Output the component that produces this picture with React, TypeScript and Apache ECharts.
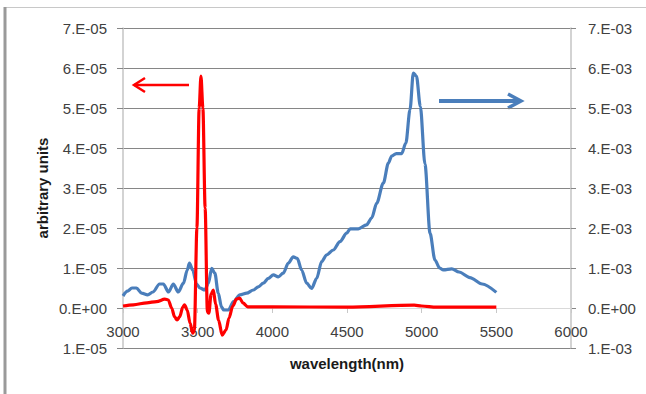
import { useEffect, useRef } from "react";
import * as echarts from "echarts";

// x axis (wavelength, nm)
const xMin = 3000;
const xMax = 6000;
const xStep = 500;

// tick labels, bottom to top
const leftTickLabels = ["1.E-05", "0.E+00", "1.E-05", "2.E-05", "3.E-05", "4.E-05", "5.E-05", "6.E-05", "7.E-05"];
const rightTickLabels = ["1.E-03", "0.E+00", "1.E-03", "2.E-03", "3.E-03", "4.E-03", "5.E-03", "6.E-03", "7.E-03"];

// blue series (right axis)
const blueWavelength = [
  3000, 3030, 3060, 3090, 3125, 3165, 3200, 3245, 3270, 3305, 3337, 3370, 3405, 3430, 3445, 3466,
  3493, 3515, 3548, 3572, 3594, 3615, 3638, 3660, 3675, 3705, 3740, 3783, 3828, 3873, 3906, 3940,
  3973, 4007, 4040, 4073, 4107, 4140, 4167, 4196, 4230, 4263, 4297, 4330, 4364, 4408, 4453, 4498,
  4521, 4576, 4631, 4665, 4699, 4743, 4777, 4799, 4830, 4866, 4894, 4922, 4944, 4965, 4991, 5022,
  5056, 5089, 5120, 5145, 5201, 5250, 5323, 5405, 5500,
];
const blueValue = [
  0.30e-3, 0.42e-3, 0.50e-3, 0.50e-3, 0.37e-3, 0.33e-3, 0.40e-3, 0.60e-3, 0.60e-3, 0.40e-3, 0.60e-3, 0.40e-3, 0.62e-3, 0.95e-3, 1.12e-3, 0.95e-3,
  0.60e-3, 0.50e-3, 0.45e-3, 0.62e-3, 0.99e-3, 0.87e-3, 0.37e-3, 0.02e-3, -0.05e-3, -0.05e-3, 0.16e-3, 0.33e-3, 0.37e-3, 0.45e-3, 0.53e-3, 0.62e-3,
  0.74e-3, 0.83e-3, 0.78e-3, 0.87e-3, 1.12e-3, 1.28e-3, 1.24e-3, 0.95e-3, 0.62e-3, 0.49e-3, 0.74e-3, 1.16e-3, 1.33e-3, 1.45e-3, 1.66e-3, 1.87e-3,
  1.98e-3, 1.98e-3, 2.08e-3, 2.25e-3, 2.62e-3, 3.12e-3, 3.62e-3, 3.80e-3, 3.86e-3, 3.86e-3, 4.12e-3, 4.96e-3, 5.87e-3, 5.80e-3, 5.04e-3, 3.60e-3,
  1.87e-3, 1.20e-3, 1.00e-3, 0.95e-3, 0.98e-3, 0.90e-3, 0.76e-3, 0.60e-3, 0.39e-3,
];

// red series (left axis)
const redWavelength = [
  3000, 3070, 3160, 3225, 3280, 3303, 3326, 3345, 3362, 3380, 3400, 3412, 3430, 3449, 3467, 3478,
  3495, 3510, 3522, 3535, 3550, 3565, 3575, 3590, 3605, 3620, 3640, 3664, 3690, 3710, 3735, 3760,
  3780, 3805, 3835, 4000, 4500, 4950, 5000, 5100, 5500,
];
const redValue = [
  0.05e-5, 0.08e-5, 0.13e-5, 0.16e-5, 0.22e-5, 0.20e-5, 0.00e-5, -0.22e-5, -0.30e-5, -0.22e-5, 0.02e-5, 0.08e-5, -0.05e-5, -0.38e-5, -0.63e-5, -0.55e-5,
  2.0e-5, 5.0e-5, 5.8e-5, 5.0e-5, 2.5e-5, -0.10e-5, -0.13e-5, 0.35e-5, 0.45e-5, 0.10e-5, -0.30e-5, -0.68e-5, -0.55e-5, -0.25e-5, 0.05e-5, 0.22e-5,
  0.25e-5, 0.12e-5, 0.03e-5, 0.03e-5, 0.02e-5, 0.07e-5, 0.05e-5, 0.02e-5, 0.02e-5,
];

const FONT = "'Liberation Sans', Arial, sans-serif";
const GRID_COLOR = "#868686";
const AXIS_COLOR = "#c4c4c4";
const LABEL_COLOR = "#404040";

const GRID_TOP = 28;
const GRID_BOTTOM = 46;
const CHART_H = 394;

export default function App() {
  const ref = useRef<HTMLDivElement>(null);

  useEffect(() => {
    document.body.style.margin = "0";
    if (!ref.current) return;
    const chart = echarts.init(ref.current, null, { renderer: "svg" });

    const splitColors = leftTickLabels.map((_, i) => (i === 1 ? "rgba(0,0,0,0)" : GRID_COLOR));
    // the x axis crosses the left value axis at zero (one interval above its minimum)
    const plotH = CHART_H - GRID_TOP - GRID_BOTTOM;
    const zeroOffset = -plotH / (leftTickLabels.length - 1);

    chart.setOption({
      animation: false,
      backgroundColor: "#ffffff",
      grid: { left: 123, right: 75, top: GRID_TOP, bottom: GRID_BOTTOM, containLabel: false },
      xAxis: {
        type: "value",
        position: "bottom",
        offset: zeroOffset,
        min: xMin,
        max: xMax,
        interval: xStep,
        axisLine: { show: true, onZero: false, lineStyle: { color: "#d9d9d9", width: 1 } },
        axisTick: { show: true, length: 5, lineStyle: { color: "#c8c8c8" } },
        splitLine: { show: false },
        axisLabel: {
          color: LABEL_COLOR,
          fontFamily: FONT,
          fontSize: 15,
          margin: 16,
          formatter: (v: number) => String(Math.round(v)),
        },
      },
      yAxis: [
        {
          type: "value",
          position: "left",
          min: -1e-5,
          max: 7e-5,
          interval: 1e-5,
          axisLine: { show: true, onZero: false, lineStyle: { color: AXIS_COLOR, width: 1.5 } },
          axisTick: { show: true, length: 6, lineStyle: { color: GRID_COLOR } },
          splitLine: { show: true, lineStyle: { color: splitColors, width: 1 } },
          axisLabel: {
            color: LABEL_COLOR,
            fontFamily: FONT,
            fontSize: 15,
            margin: 16,
            formatter: (v: number) => leftTickLabels[Math.round(v / 1e-5) + 1] ?? "",
          },
        },
        {
          type: "value",
          position: "right",
          min: -1e-3,
          max: 7e-3,
          interval: 1e-3,
          axisLine: { show: true, onZero: false, lineStyle: { color: AXIS_COLOR, width: 1.5 } },
          axisTick: { show: true, length: 5, lineStyle: { color: GRID_COLOR } },
          splitLine: { show: false },
          axisLabel: {
            color: LABEL_COLOR,
            fontFamily: FONT,
            fontSize: 15,
            margin: 17,
            formatter: (v: number) => rightTickLabels[Math.round(v / 1e-3) + 1] ?? "",
          },
        },
      ],
      series: [
        {
          type: "line",
          yAxisIndex: 1,
          data: blueWavelength.map((w, i) => [w, blueValue[i]]),
          showSymbol: false,
          smooth: 0.3,
          smoothMonotone: "x",
          lineStyle: { color: "#4a7ebb", width: 3.2 },
          itemStyle: { color: "#4a7ebb" },
          z: 2,
        },
        {
          type: "line",
          yAxisIndex: 0,
          data: redWavelength.map((w, i) => [w, redValue[i]]),
          showSymbol: false,
          smooth: 0.3,
          smoothMonotone: "x",
          lineStyle: { color: "#ff0000", width: 3.2 },
          itemStyle: { color: "#ff0000" },
          z: 3,
        },
      ],
      graphic: [
        {
          type: "rect",
          shape: { x: 5, y: 7.5, width: 700, height: 420 },
          style: { fill: "none", stroke: "#c8c8c8", lineWidth: 1 },
          silent: true,
        },
        {
          type: "line",
          shape: { x1: 5, y1: 7, x2: 5, y2: 394 },
          style: { stroke: "#9a9a9a", lineWidth: 3 },
          silent: true,
        },
        {
          type: "text",
          x: 42,
          y: 188,
          rotation: Math.PI / 2,
          style: {
            text: "arbitrary units",
            font: `bold 15px ${FONT}`,
            fill: "#1a1a1a",
            align: "center",
            verticalAlign: "middle",
          },
        },
        {
          type: "text",
          x: 347,
          y: 363,
          style: {
            text: "wavelength(nm)",
            font: `bold 15px ${FONT}`,
            fill: "#1a1a1a",
            align: "center",
            verticalAlign: "middle",
          },
        },
        // red arrow (points to left axis)
        {
          type: "polyline",
          shape: { points: [[189, 85], [134, 85]] },
          style: { stroke: "#ff0000", lineWidth: 2.5, fill: "none" },
        },
        {
          type: "polyline",
          shape: { points: [[145, 78], [134, 85], [145, 92]] },
          style: { stroke: "#ff0000", lineWidth: 2.5, fill: "none" },
        },
        // blue arrow (points to right axis)
        {
          type: "polyline",
          shape: { points: [[439, 101], [521, 101]] },
          style: { stroke: "#4a7ebb", lineWidth: 4, fill: "none" },
        },
        {
          type: "polyline",
          shape: { points: [[508, 94], [521, 101], [508, 108]] },
          style: { stroke: "#4a7ebb", lineWidth: 3.5, fill: "none" },
        },
      ],
    });

    return () => chart.dispose();
  }, []);

  return <div ref={ref} style={{ width: 646, height: 394 }} />;
}
